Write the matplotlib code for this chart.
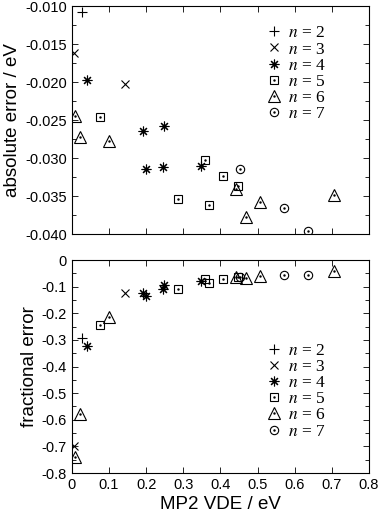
import matplotlib
matplotlib.use('Agg')
import matplotlib.pyplot as plt
from matplotlib.ticker import MultipleLocator

plt.rcParams['font.family'] = ['Liberation Sans', 'DejaVu Sans']
plt.rcParams['mathtext.fontset'] = 'stix'

# absolute error (top) and fractional error (bottom) vs MP2 VDE, per cluster size n
x2 = [0.027]
abs2 = [-0.0107]
frac2 = [-0.291]

x3 = [0.006, 0.143]
abs3 = [-0.0161, -0.0203]
frac3 = [-0.698, -0.125]

x4 = [0.042, 0.191, 0.249, 0.199, 0.246, 0.348]
abs4 = [-0.0197, -0.0264, -0.0257, -0.0314, -0.0312, -0.0310]
frac4 = [-0.322, -0.123, -0.092, -0.135, -0.110, -0.079]

x5 = [0.076, 0.285, 0.358, 0.369, 0.408, 0.447]
abs5 = [-0.0246, -0.0354, -0.0303, -0.0362, -0.0324, -0.0336]
frac5 = [-0.245, -0.109, -0.071, -0.085, -0.071, -0.063]

x6 = [0.008, 0.021, 0.101, 0.443, 0.468, 0.506, 0.706]
abs6 = [-0.0245, -0.0272, -0.0278, -0.0341, -0.0377, -0.0358, -0.0349]
frac6 = [-0.740, -0.577, -0.213, -0.063, -0.066, -0.059, -0.041]

x7 = [0.452, 0.572, 0.637]
abs7 = [-0.0314, -0.0365, -0.0396]
frac7 = [-0.063, -0.058, -0.058]

sizes = ['2', '3', '4', '5', '6', '7']
xs = [x2, x3, x4, x5, x6, x7]
abs_err = [abs2, abs3, abs4, abs5, abs6, abs7]
frac_err = [frac2, frac3, frac4, frac5, frac6, frac7]
markers = ['+', 'x', (8, 2, 0), 's', '^', 'o']
msizes = [7, 6, 7, 6, 9, 6]
dotted = [False, False, False, True, True, True]

fig = plt.figure(figsize=(3.8, 5.17), dpi=100)
ax1 = fig.add_axes([0.189, 0.547, 0.782, 0.441])
ax2 = fig.add_axes([0.189, 0.085, 0.782, 0.412])


def draw(ax, ys):
    handles = []
    for x, y, m, ms, d in zip(xs, ys, markers, msizes, dotted):
        h = ax.plot(x, y, linestyle='none', marker=m, ms=ms, mfc='none',
                    mec='black', mew=0.8, color='black')[0]
        if d:
            hd = ax.plot(x, y, linestyle='none', marker='.', ms=1.5,
                         color='black')[0]
            handles.append((h, hd))
        else:
            handles.append(h)
    return handles


def style(ax):
    ax.tick_params(which='both', direction='in', top=True, right=True,
                   labelsize=10.5, width=0.6)
    ax.tick_params(which='major', length=4)
    ax.tick_params(which='minor', length=3)
    for s in ax.spines.values():
        s.set_linewidth(0.8)
    ax.set_xlim(0, 0.8)
    ax.xaxis.set_major_locator(MultipleLocator(0.1))


fmt = matplotlib.ticker.FuncFormatter(
    lambda v, p: '0' if abs(v) < 1e-9 else ('%.1f' % v))
labels = [r'$n$ = %s' % s for s in sizes]
leg_font = {'family': 'Liberation Serif', 'size': 12.5}

h1 = draw(ax1, abs_err)
style(ax1)
ax1.set_ylim(-0.040, -0.010)
ax1.yaxis.set_major_locator(MultipleLocator(0.005))
ax1.yaxis.set_minor_locator(MultipleLocator(0.0025))
ax1.yaxis.set_major_formatter(matplotlib.ticker.FormatStrFormatter('%.3f'))
ax1.set_xticklabels([])
ax1.set_ylabel('absolute error / eV', fontsize=13.5, labelpad=3)
ax1.legend(h1, labels, loc='upper left', bbox_to_anchor=(0.6, 0.97),
           frameon=False, prop=leg_font, handletextpad=0.2, handlelength=1.3,
           labelspacing=0.0, borderpad=0.2)

h2 = draw(ax2, frac_err)
style(ax2)
ax2.set_ylim(-0.8, 0)
ax2.yaxis.set_major_locator(MultipleLocator(0.1))
ax2.yaxis.set_minor_locator(MultipleLocator(0.05))
ax2.yaxis.set_major_formatter(fmt)
ax2.xaxis.set_major_formatter(fmt)
ax2.set_ylabel('fractional error', fontsize=13.5, labelpad=3)
ax2.set_xlabel('MP2 VDE / eV', fontsize=13.5, labelpad=3)
ax2.legend(h2, labels, loc='lower left', bbox_to_anchor=(0.6, 0.1),
           frameon=False, prop=leg_font, handletextpad=0.2, handlelength=1.3,
           labelspacing=0.0, borderpad=0.2)

fig.savefig('out.png', dpi=100)
